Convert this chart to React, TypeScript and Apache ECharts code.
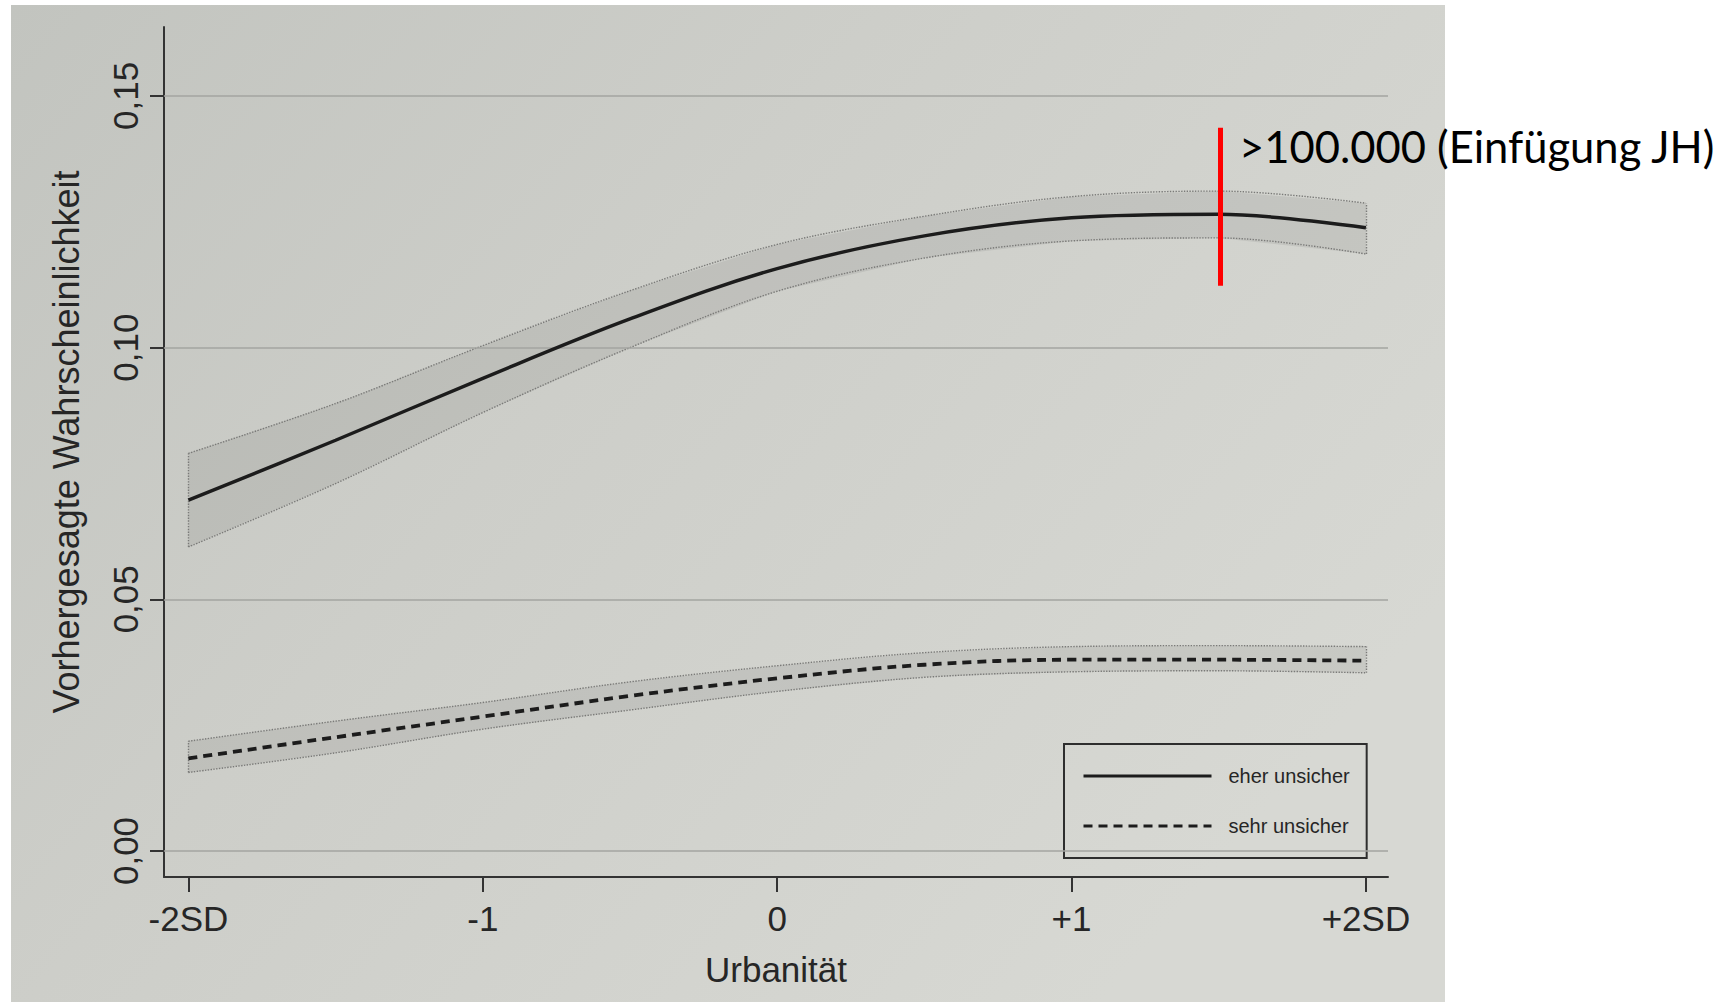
import React, { useEffect, useRef } from "react";
import * as echarts from "echarts";

// ---- data ----
const xValues = [-2, -1.5, -1, -0.5, 0, 0.5, 1, 1.5, 2];

const eherMid = [0.0697, 0.0816, 0.0939, 0.1057, 0.1157, 0.1222, 0.1258, 0.1265, 0.1238];
const eherUpper = [0.079, 0.0889, 0.1004, 0.1113, 0.1205, 0.1261, 0.13, 0.1311, 0.1287];
const eherLower = [0.0604, 0.073, 0.0871, 0.1, 0.1112, 0.1178, 0.1212, 0.1218, 0.1186];

const sehrMid = [0.0184, 0.0226, 0.0267, 0.0308, 0.0343, 0.037, 0.038, 0.038, 0.0378];
const sehrUpper = [0.0218, 0.0258, 0.0295, 0.0336, 0.0368, 0.0394, 0.0406, 0.0408, 0.0406];
const sehrLower = [0.0156, 0.0195, 0.0242, 0.028, 0.0317, 0.0345, 0.0356, 0.0358, 0.0354];

const xTickValues = [-2, -1, 0, 1, 2];
const xTickLabels = ["-2SD", "-1", "0", "+1", "+2SD"];
const yTickValues = [0, 0.05, 0.1, 0.15];
const seriesNames = ["eher unsicher", "sehr unsicher"];
const xAxisName = "Urbanität";
const yAxisName = "Vorhergesagte Wahrscheinlichkeit";

const annotationX = 1.505;
const annotationRange = [0.1123, 0.1437];
const annotationText = ">100.000 (Einfügung JH)";

// ---- styling ----
const FONT = "'Liberation Sans', Arial, Helvetica, sans-serif";
const INK = "#262626";
const BAND_FILL = "rgba(70,70,68,0.10)";
const BAND_EDGE = "#7a7a78";
const SMOOTH = 0.35;

const pairs = (ys: number[]) => xValues.map((x, i) => [x, ys[i]]);

function bandSeries(key: string, lo: number[], hi: number[], withGrid: boolean) {
  const edge = { color: BAND_EDGE, width: 1.4, type: "dotted" as const };
  const fill: any = {
    name: key + "-fill",
    type: "custom",
    data: xValues.map((x, i) => [x, lo[i], hi[i]]),
    encode: { x: 0, y: [1, 2] },
    silent: true,
    clip: false,
    z: 1,
    renderItem: (params: any, api: any) => {
      if (params.dataIndex !== 0) return null;
      const top = xValues.map((x, i) => api.coord([x, hi[i]]));
      const bot = xValues.map((x, i) => api.coord([x, lo[i]])).reverse();
      return {
        type: "polygon",
        shape: { points: top.concat(bot) },
        style: { fill: BAND_FILL },
        silent: true,
      };
    },
  };
  const lower: any = {
    name: key + "-lower",
    type: "line",
    data: pairs(lo),
    smooth: SMOOTH,
    symbol: "none",
    lineStyle: edge,
    silent: true,
    z: 2,
  };
  if (withGrid) {
    lower.markLine = {
      silent: true,
      symbol: "none",
      label: { show: false },
      lineStyle: { color: "#a3a4a0", width: 1.6, type: "solid" },
      data: yTickValues.map((v) => ({ yAxis: v })),
    };
  }
  const upper: any = {
    name: key + "-upper",
    type: "line",
    data: pairs(hi),
    smooth: SMOOTH,
    symbol: "none",
    lineStyle: edge,
    silent: true,
    z: 2,
    markLine: {
      silent: true,
      symbol: "none",
      label: { show: false },
      lineStyle: edge,
      data: [
        [{ coord: [xValues[0], lo[0]] }, { coord: [xValues[0], hi[0]] }],
        [
          { coord: [xValues[xValues.length - 1], lo[lo.length - 1]] },
          { coord: [xValues[xValues.length - 1], hi[hi.length - 1]] },
        ],
      ],
    },
  };
  return [fill, lower, upper];
}

export default function App() {
  const ref = useRef<HTMLDivElement>(null);

  useEffect(() => {
    if (!ref.current) return;
    const chart = echarts.init(ref.current, null, { renderer: "svg" });

    const option: any = {
      animation: false,
      backgroundColor: "transparent",
      textStyle: { fontFamily: FONT },
      grid: { left: 164, top: 27, right: 334, bottom: 125, containLabel: false },
      graphic: {
        elements: [
          {
            type: "rect",
            silent: true,
            z: -100,
            shape: { x: 11, y: 5, width: 1434, height: 997 },
            style: {
              fill: {
                type: "linear",
                x: 0,
                y: 0,
                x2: 1,
                y2: 0.6,
                colorStops: [
                  { offset: 0, color: "#c2c4bf" },
                  { offset: 0.45, color: "#cdcec9" },
                  { offset: 1, color: "#d7d8d3" },
                ],
              },
            },
          },
          {
            type: "text",
            x: 1239,
            y: 146,
            z: 100,
            style: {
              text: annotationText,
              fontFamily: "Lato, 'Open Sans', sans-serif",
              fontSize: 43.5,
              fill: "#000000",
              align: "left",
              verticalAlign: "middle",
            },
          },
        ],
      },
      legend: {
        data: seriesNames,
        orient: "vertical",
        left: 1064,
        top: 744,
        padding: [22, 17, 22, 18],
        itemWidth: 128,
        itemHeight: 14,
        itemGap: 30,
        borderColor: "#2e2e2e",
        borderWidth: 2,
        selectedMode: false,
        itemStyle: { color: "rgba(0,0,0,0)", borderColor: "rgba(0,0,0,0)", borderWidth: 0 },
        lineStyle: { width: 3 },
        textStyle: {
          fontFamily: FONT,
          fontSize: 20,
          lineHeight: 20,
          color: INK,
          padding: [0, 0, 0, 12],
        },
      },
      xAxis: {
        type: "value",
        min: -2.083,
        max: 2.075,
        name: xAxisName,
        nameLocation: "middle",
        nameGap: 75,
        nameTextStyle: { fontFamily: FONT, fontSize: 35, color: INK },
        axisLine: { show: true, onZero: false, lineStyle: { color: "#333", width: 2 } },
        axisTick: {
          show: true,
          length: 15,
          customValues: xTickValues,
          lineStyle: { color: "#333", width: 2 },
        },
        axisLabel: {
          customValues: xTickValues,
          margin: 24,
          fontFamily: FONT,
          fontSize: 35,
          color: INK,
          formatter: (v: number) => {
            const i = xTickValues.indexOf(v);
            return i >= 0 ? xTickLabels[i] : "";
          },
        },
        splitLine: { show: false },
      },
      yAxis: {
        type: "value",
        min: -0.00517,
        max: 0.1637,
        name: yAxisName,
        nameLocation: "middle",
        nameRotate: 90,
        nameGap: 80,
        nameTextStyle: {
          fontFamily: FONT,
          fontSize: 36,
          color: INK,
          padding: [0, 0, 0, 20],
        },
        axisLine: { show: true, onZero: false, lineStyle: { color: "#333", width: 2 } },
        axisTick: {
          show: true,
          length: 14,
          customValues: yTickValues,
          lineStyle: { color: "#333", width: 2 },
        },
        axisLabel: {
          customValues: yTickValues,
          rotate: 90,
          margin: 21,
          fontFamily: FONT,
          fontSize: 35,
          color: INK,
          formatter: (v: number) => v.toFixed(2).replace(".", ","),
        },
        splitLine: { show: false },
      },
      series: [
        ...bandSeries("eher", eherLower, eherUpper, true),
        ...bandSeries("sehr", sehrLower, sehrUpper, false),
        {
          name: seriesNames[0],
          type: "line",
          data: pairs(eherMid),
          smooth: SMOOTH,
          symbol: "none",
          lineStyle: { color: "#1c1c1c", width: 3.5, type: "solid" },
          itemStyle: { color: "#1c1c1c" },
          z: 5,
        },
        {
          name: seriesNames[1],
          type: "line",
          data: pairs(sehrMid),
          smooth: SMOOTH,
          symbol: "none",
          lineStyle: { color: "#1c1c1c", width: 3.8, type: [9, 6] },
          itemStyle: { color: "#1c1c1c" },
          z: 5,
          markLine: {
            silent: true,
            symbol: "none",
            label: { show: false },
            lineStyle: { color: "#ff0000", width: 5, type: "solid" },
            data: [
              [
                { coord: [annotationX, annotationRange[0]] },
                { coord: [annotationX, annotationRange[1]] },
              ],
            ],
            z: 10,
          },
        },
      ],
    };

    chart.setOption(option);
    return () => chart.dispose();
  }, []);

  return (
    <div
      ref={ref}
      style={{ position: "absolute", left: 0, top: 0, width: 1722, height: 1002 }}
    />
  );
}
